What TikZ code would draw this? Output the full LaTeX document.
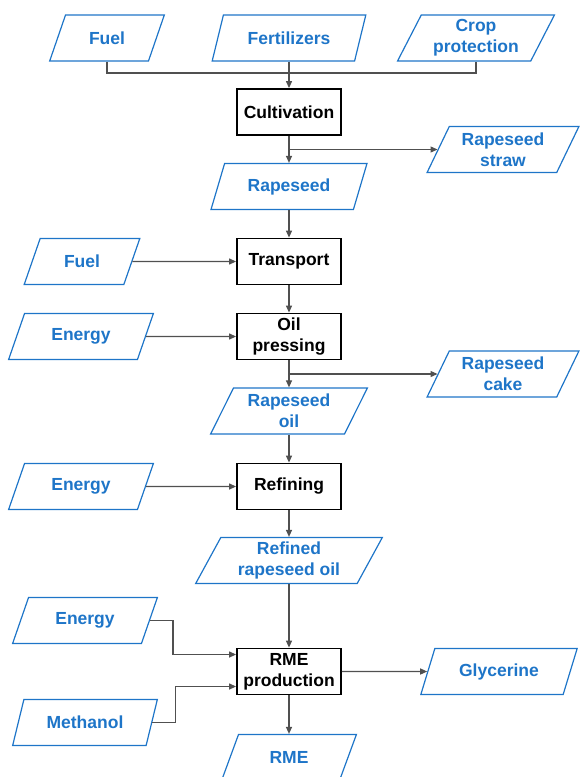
\documentclass[tikz,border=0pt]{standalone}
\usepackage{fontspec}
\setmainfont{Liberation Sans}
\usetikzlibrary{shapes.geometric,arrows.meta}

\definecolor{flowblue}{RGB}{30,117,200}
\definecolor{linegray}{RGB}{80,80,80}

\tikzset{
  process/.style={draw=black, line width=1.8pt, minimum width=104pt, minimum height=46pt,
    align=center, inner sep=2pt, font=\fontsize{17.5}{21}\selectfont\bfseries},
  flow/.style={trapezium, trapezium left angle=64, trapezium right angle=116,
    trapezium stretches=true, draw=flowblue, line width=1.2pt, text=flowblue,
    minimum height=46pt, minimum width=#1, align=center, inner sep=1pt,
    font=\fontsize{17.5}{21}\selectfont\bfseries},
  arr/.style={draw=linegray, line width=1.2pt, -{Triangle[length=7pt,width=6pt]}},
  link/.style={draw=linegray, line width=1.2pt}
}

\begin{document}
\begin{tikzpicture}[x=1pt,y=1pt]
  \useasboundingbox (0,0) rectangle (579,-777);

  % inputs for cultivation
  \node[flow=115pt] (fuelA) at (107,-38) {Fuel};
  \node[flow=155pt] (fert) at (289,-38) {Fertilizers};
  \node[flow=157pt] (crop) at (476,-38) {Crop\\protection};

  % main chain
  \node[process] (cult) at (289,-112) {Cultivation};
  \node[flow=152pt] (straw) at (503,-149.5) {Rapeseed\\straw};
  \node[flow=156pt] (rape) at (289,-186.5) {Rapeseed};
  \node[flow=116pt] (fuelB) at (82,-261.5) {Fuel};
  \node[process] (transp) at (289,-261.5) {Transport};
  \node[flow=145pt] (energyA) at (81,-336.5) {Energy};
  \node[process] (press) at (289,-336.5) {Oil\\pressing};
  \node[flow=152pt] (cake) at (503,-374) {Rapeseed\\cake};
  \node[flow=157pt] (oil) at (289,-411) {Rapeseed\\oil};
  \node[flow=145pt] (energyB) at (81,-486.5) {Energy};
  \node[process] (refin) at (289,-486.5) {Refining};
  \node[flow=187pt] (refd) at (289,-560.5) {Refined\\rapeseed oil};
  \node[flow=145pt] (energyC) at (85,-620.5) {Energy};
  \node[process] (rmep) at (289,-671.5) {RME\\production};
  \node[flow=157pt] (glyc) at (499,-671.5) {Glycerine};
  \node[flow=145pt] (meth) at (85,-722.5) {Methanol};
  \node[flow=135pt] (rme) at (289,-757.5) {RME};

  \coordinate (join) at (289,-73);
  \draw[link] (fuelA.center |- fuelA.south) |- (join) -| (crop.center |- crop.south);
  \draw[arr] (fert.center |- fert.south) -- (cult.north);

  \draw[arr] (cult.south) -- (cult.south |- rape.north);
  \coordinate (splitA) at (cult.south |- straw.west);
  \draw[arr] (splitA) -- (straw.west);
  \draw[arr] (rape.center |- rape.south) -- (transp.north);
  \draw[arr] (fuelB.east) -- (transp.west);
  \draw[arr] (transp.south) -- (press.north);
  \draw[arr] (energyA.east) -- (press.west);
  \draw[arr] (press.south) -- (press.south |- oil.north);
  \coordinate (splitB) at (press.south |- cake.west);
  \draw[arr] (splitB) -- (cake.west);
  \draw[arr] (oil.center |- oil.south) -- (refin.north);
  \draw[arr] (energyB.east) -- (refin.west);
  \draw[arr] (refin.south) -- (refin.south |- refd.north);
  \draw[arr] (refd.center |- refd.south) -- (rmep.north);

  % RME production
  \draw[arr] (energyC.east) -- ++(23,0) |- ([yshift=17pt]rmep.west);
  \draw[arr] (meth.east) -- ++(23,0) |- ([yshift=-15pt]rmep.west);
  \draw[arr] (rmep.east) -- (glyc.west);
  \draw[arr] (rmep.south) -- (rmep.south |- rme.north);
\end{tikzpicture}
\end{document}
